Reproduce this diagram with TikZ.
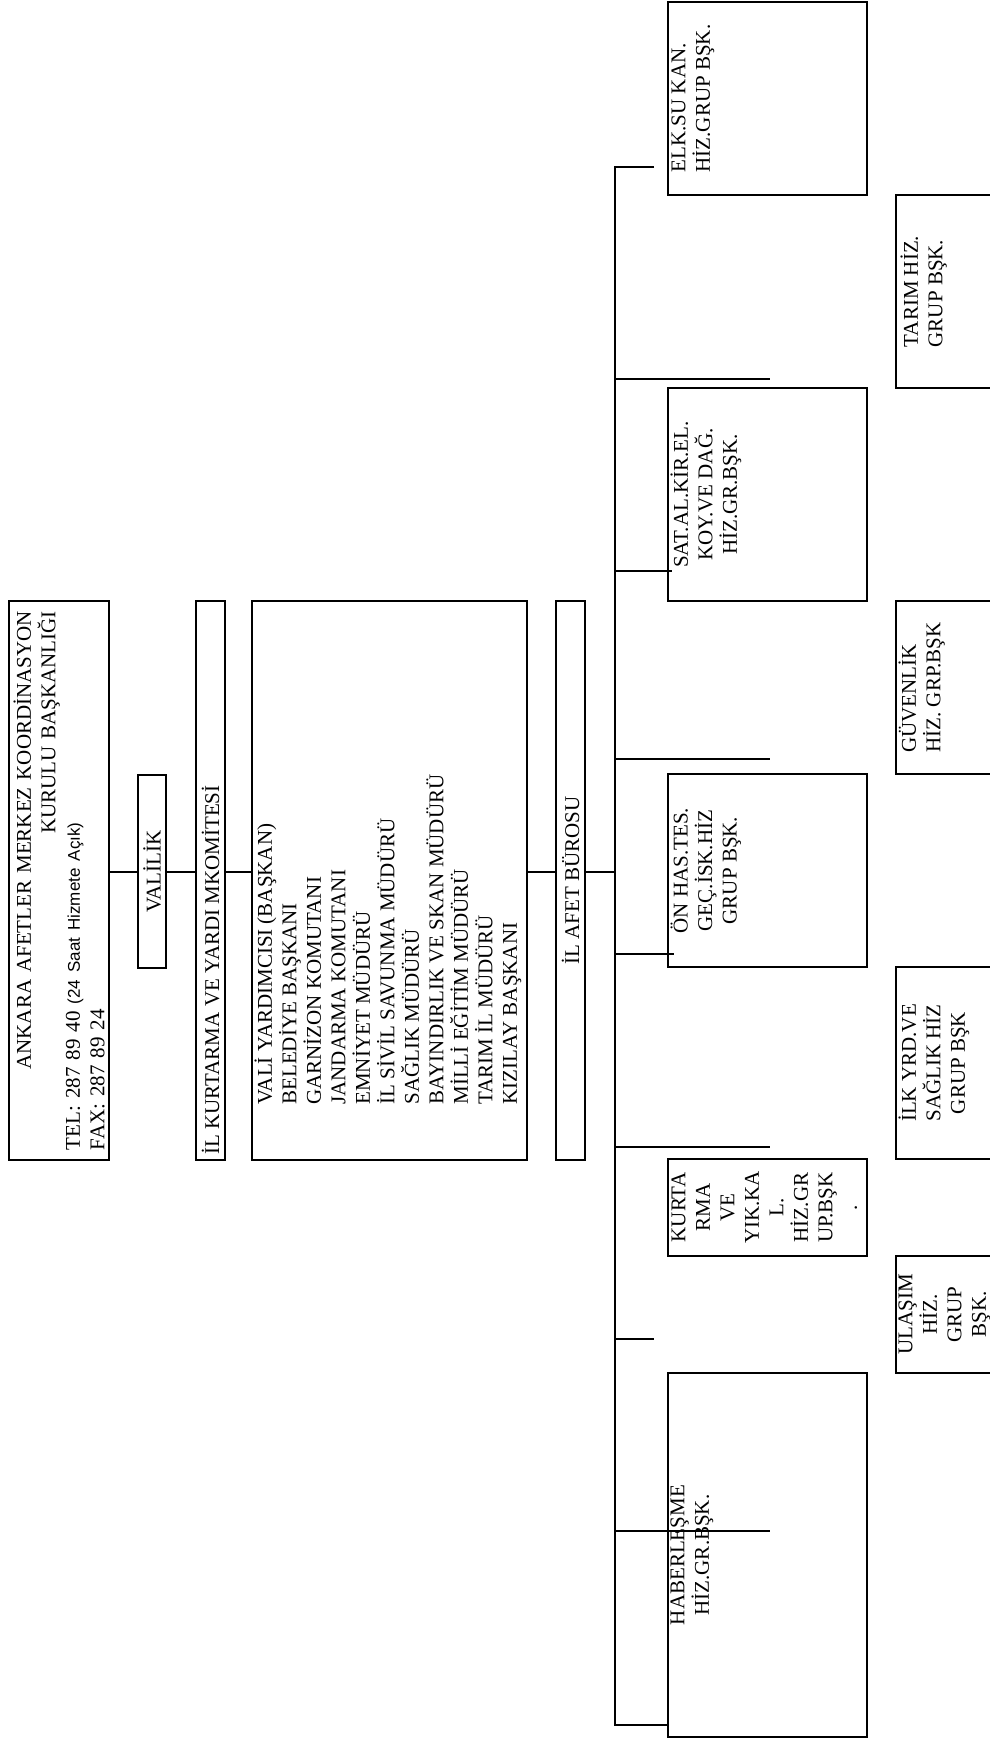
\documentclass[tikz,border=0pt]{standalone}
\usepackage{fontspec}
\setmainfont{Liberation Serif}
\setsansfont{Liberation Sans}
\usetikzlibrary{positioning,calc}

\begin{document}
\begin{tikzpicture}[x=1pt,y=-1pt,
  font=\fontsize{21}{24.5}\selectfont,
  kutu/.style={draw,line width=1.4pt,inner sep=0pt},
  yazi/.style={rotate=90,inner sep=0pt,align=center},
  bag/.style={line width=1.2pt},
  kol/.style={line width=2pt},
  omurga/.style={line width=2.4pt}]

\clip (0,0) rectangle (990,1741);
\fill[white] (0,0) rectangle (990,1741);

% sol sira
\node[kutu,minimum width=100pt,minimum height=559pt] (ankara) at (59,880.5) {};
\node[kutu,minimum width=28pt,minimum height=193pt] (valilik) at (152,871.5) {};
\node[kutu,minimum width=29pt,minimum height=559pt] (komite) at (210.5,880.5) {};
\node[kutu,minimum width=275pt,minimum height=559pt] (uyeler) at (389.5,880.5) {};
\node[kutu,minimum width=29pt,minimum height=559pt] (buro) at (570.5,880.5) {};

\node[yazi,anchor=north,text width=539pt,align=left] (ankara-t) at ([xshift=5pt]ankara.west)
  {\hspace*{\fill}ANKARA AFETLER MERKEZ KOORDİNASYON\hspace*{\fill}\\
   \hspace*{\fill}KURULU BAŞKANLIĞI\hspace*{\fill}\\
   TEL: 287 89 40 {\sffamily\fontsize{17}{24.5}\selectfont(24 Saat Hizmete Açık)}\\
   FAX: 287 89 24};
\node[yazi] (valilik-t) at (valilik) {VALİLİK};
\node[yazi,anchor=west] (komite-t) at ([yshift=6pt]komite.south) {İL KURTARMA VE YARDI MKOMİTESİ};
\node[yazi,anchor=north west,align=left] (uyeler-t) at ([xshift=3pt,yshift=56pt]uyeler.south west)
  {VALİ YARDIMCISI (BAŞKAN)\\ BELEDİYE BAŞKANI\\ GARNİZON KOMUTANI\\
   JANDARMA KOMUTANI\\ EMNİYET MÜDÜRÜ\\ İL SİVİL SAVUNMA MÜDÜRÜ\\
   SAĞLIK MÜDÜRÜ\\ BAYINDIRLIK VE SKAN MÜDÜRÜ\\ MİLLİ EĞİTİM MÜDÜRÜ\\
   TARIM İL MÜDÜRÜ\\ KIZILAY BAŞKANI};
\node[yazi] (buro-t) at (buro) {İL AFET BÜROSU};

\coordinate (hat) at (0,872);
\coordinate (ust) at (615,167);
\coordinate (alt) at (615,1725);
\draw[bag] (ankara.east|-hat) -- (valilik.west|-hat);
\draw[bag] (valilik.east|-hat) -- (komite.west|-hat);
\draw[bag] (komite.east|-hat) -- (uyeler.west|-hat);
\draw[bag] (uyeler.east|-hat) -- (buro.west|-hat);
\draw[bag] (buro.east|-hat) -- (ust|-hat);

% grup baskanliklari
\node[kutu,minimum width=199pt,minimum height=193pt] (elk) at (767.5,98.5) {};
\node[kutu,minimum width=199pt,minimum height=213pt] (satal) at (767.5,494.5) {};
\node[kutu,minimum width=199pt,minimum height=193pt] (onhas) at (767.5,870.5) {};
\node[kutu,minimum width=199pt,minimum height=97pt] (kurtarma) at (767.5,1207.5) {};
\node[kutu,minimum width=199pt,minimum height=364pt] (haber) at (767.5,1555) {};
\node[kutu,minimum width=204pt,minimum height=193pt] (tarim) at (998,291.5) {};
\node[kutu,minimum width=204pt,minimum height=173pt] (guven) at (998,687.5) {};
\node[kutu,minimum width=204pt,minimum height=192pt] (ilkyrd) at (998,1063) {};
\node[kutu,minimum width=204pt,minimum height=117pt] (ulasim) at (998,1314.5) {};

\node[yazi,anchor=north,align=left] (elk-t) at ([xshift=4pt]elk.west) {ELK.SU KAN.\\HİZ.GRUP BŞK.};
\node[yazi,anchor=north] (satal-t) at ([xshift=3pt]satal.west) {SAT.AL.KİR.EL.\\KOY.VE DAĞ.\\HİZ.GR.BŞK.};
\node[yazi,anchor=north] (onhas-t) at ([xshift=3pt]onhas.west) {ÖN HAS.TES.\\GEÇ.İSK.HİZ\\GRUP BŞK.};
\node[yazi,anchor=north] (kurtarma-t) at ([xshift=4pt]kurtarma.west) {KURTA\\RMA\\VE\\YIK.KA\\L.\\HİZ.GR\\UP.BŞK\\.};
\node[yazi,anchor=north] (haber-t) at ([xshift=3pt]haber.west) {HABERLEŞME\\HİZ.GR.BŞK.};
\node[yazi,anchor=north,align=left] (tarim-t) at ([xshift=5pt]tarim.west) {TARIM HİZ.\\GRUP BŞK.};
\node[yazi,anchor=north,align=left] (guven-t) at ([xshift=3pt]guven.west) {GÜVENLİK\\HİZ. GRP.BŞK};
\node[yazi,anchor=north] (ilkyrd-t) at ([xshift=3pt]ilkyrd.west) {İLK YRD.VE\\SAĞLIK HİZ\\GRUP BŞK};
\node[yazi,anchor=north] (ulasim-t) at ([xshift=3pt]ulasim.west) {ULAŞIM\\HİZ.\\GRUP\\BŞK.};

% ana hat ve kollar
\coordinate (d0) at (654,167);
\draw[omurga] (d0) -- (ust) -- (alt) -- (alt-|haber.west);
\foreach \yy/\xx [count=\i] in {379/770,571/672,759/770,954/674,1147/770,1339/654,1531/770}{
  \coordinate (d\i) at (\xx,\yy);
  \draw[kol] (ust|-d\i) -- (d\i);
}
\end{tikzpicture}
\end{document}
